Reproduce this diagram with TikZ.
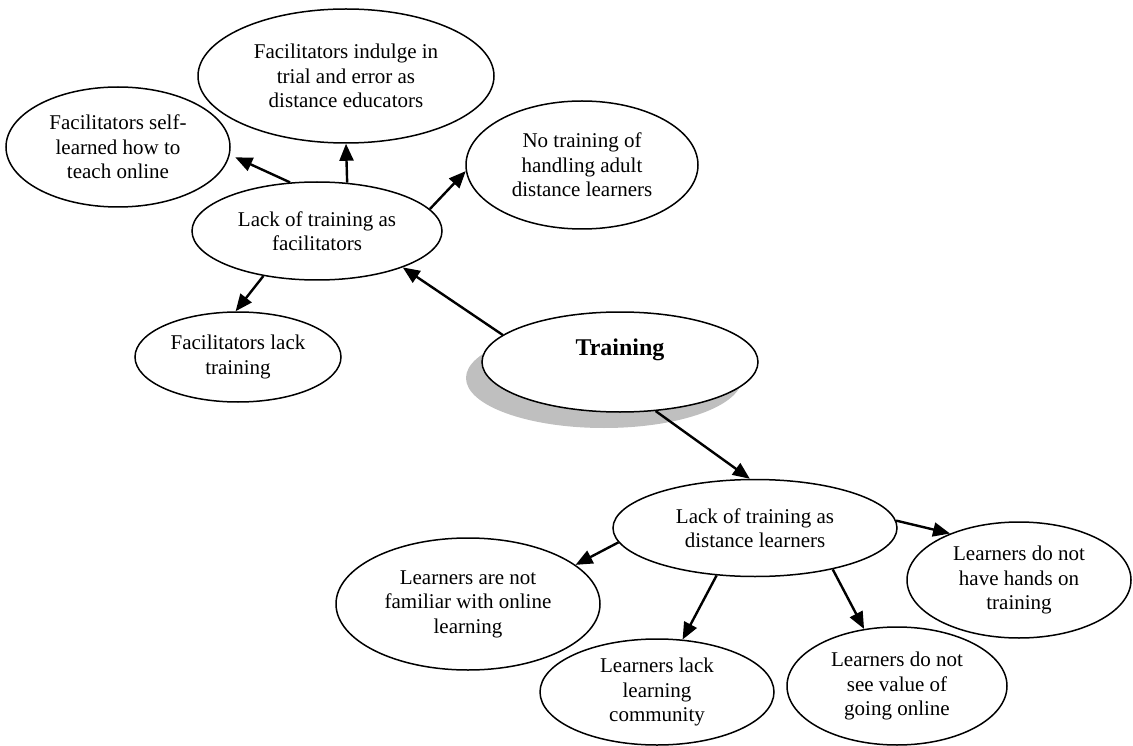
\documentclass[tikz,border=0pt]{standalone}
\usepackage{fontspec}
\setmainfont{Liberation Serif}
\usetikzlibrary{shapes.geometric,arrows.meta}
\definecolor{shadowgray}{RGB}{191,191,191}
\begin{document}
\begin{tikzpicture}[x=1pt,y=-1pt,
  bub/.style={ellipse, draw=black, line width=1.5pt, fill=white, inner sep=0pt, align=center,
    font=\fontsize{21}{24.5}\selectfont},
  shadowbub/.style={ellipse, fill=shadowgray, inner sep=0pt},
  arr/.style={line width=2.4pt, -{Triangle[length=17pt,width=14pt]}}]
\useasboundingbox (0,0) rectangle (1133,746);
% shadow of the central node
\node[shadowbub, minimum width=276pt, minimum height=100pt] (tsh) at (604,378) {};
% nodes
\node[bub, minimum width=296pt, minimum height=134pt] (I) at (346,76) {Facilitators indulge in\\trial and error as\\distance educators};
\node[bub, minimum width=224pt, minimum height=120pt] (S) at (118,147) {Facilitators self-\\learned how to\\teach online};
\node[bub, minimum width=232pt, minimum height=128pt] (N) at (582,165) {No training of\\handling adult\\distance learners};
\node[bub, minimum width=250pt, minimum height=98pt] (F) at (317,231) {Lack of training as\\facilitators};
\node[bub, minimum width=206pt, minimum height=90pt] (L) at (238,357) {Facilitators lack\\training};
\node[bub, minimum width=276pt, minimum height=100pt, font=\fontsize{24}{28}\selectfont\bfseries] (T) at (620,362) {\raisebox{12pt}[\height][\depth]{Training}};
\node[bub, minimum width=284pt, minimum height=97pt] (D) at (755,528) {Lack of training as\\distance learners};
\node[bub, minimum width=264pt, minimum height=132pt] (M) at (468,604) {Learners are not\\familiar with online\\learning};
\node[bub, minimum width=234pt, minimum height=106pt] (C) at (657,692) {Learners lack\\learning\\community};
\node[bub, minimum width=220pt, minimum height=118pt] (V) at (897,686) {Learners do not\\see value of\\going online};
\node[bub, minimum width=224pt, minimum height=116pt] (H) at (1019,580) {Learners do not\\have hands on\\training};
% connectors
\draw[arr] (T.167.5) -- (F.-23.5);
\draw[arr] (T.-54) -- (D.96);
\draw[arr, shorten >=6pt] (F.119.4) -- (S.-4.9);
\draw[arr] (F.58.9) -- (I.-90);
\draw[arr] (F.11.5) -- (N.183.9);
\draw[arr] (F.220.2) -- (L.93.8);
\draw[arr] (D.186) -- (M.20);
\draw[arr] (D.231.8) -- (C.64.7);
\draw[arr] (D.-28.3) -- (V.120.4);
\draw[arr] (D.3.2) -- (H.146.7);
\end{tikzpicture}
\end{document}
